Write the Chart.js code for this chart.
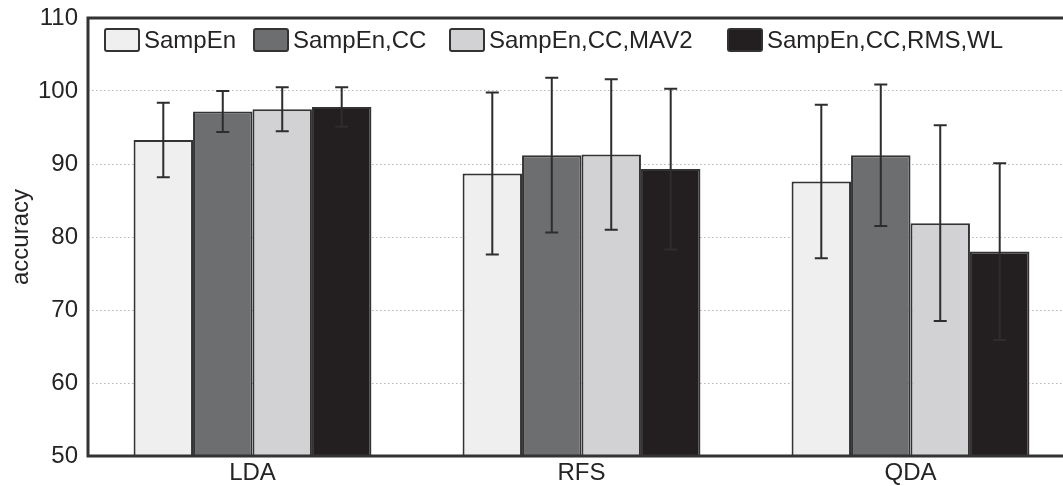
<!DOCTYPE html>
<html>
<head>
<meta charset="utf-8">
<script src="https://cdn.jsdelivr.net/npm/chart.js@4"></script>
<style>
  html, body { margin: 0; padding: 0; background: #fff; overflow: hidden; }
  #wrap { width: 1080px; height: 486px; }
</style>
</head>
<body>
<div id="wrap"><canvas id="chart" width="1080" height="486"></canvas></div>
<script>
// data
const classifiers = ["LDA", "RFS", "QDA"];
const featureSets = ["SampEn", "SampEn,CC", "SampEn,CC,MAV2", "SampEn,CC,RMS,WL"];
const sampEn       = [93.3, 88.7, 87.6];
const sampEnCC     = [97.2, 91.2, 91.2];
const sampEnCCMav2 = [97.5, 91.3, 81.9];
const sampEnCCRmsWl = [97.8, 89.3, 78.0];
const sampEnErr       = [5.1, 11.1, 10.5];
const sampEnCCErr     = [2.8, 10.6, 9.7];
const sampEnCCMav2Err = [3.0, 10.3, 13.4];
const sampEnCCRmsWlErr = [2.7, 11.0, 12.1];
const yTicks = [50, 60, 70, 80, 90, 100, 110];

const fills = ["#efefef", "#6d6e70", "#d2d2d4", "#231f20"];
const ink = "#262324";
const font = "'Liberation Sans', Arial, sans-serif";
// legend box offsets from the plot's left edge (layout only)
const legendOffsets = [17, 166, 362, 640];

const values = [sampEn, sampEnCC, sampEnCCMav2, sampEnCCRmsWl];
const errors = [sampEnErr, sampEnCCErr, sampEnCCMav2Err, sampEnCCRmsWlErr];

// error bars, drawn from the scales
const errorBars = {
    id: "errorBars",
    afterDatasetsDraw(chart) {
        const { ctx, scales: { y } } = chart;
        ctx.save();
        ctx.strokeStyle = "#2e2c2d";
        ctx.lineWidth = 2;
        chart.data.datasets.forEach((ds, i) => {
            const meta = chart.getDatasetMeta(i);
            meta.data.forEach((bar, j) => {
                const v = ds.data[j], e = ds.errors[j];
                const top = y.getPixelForValue(v + e);
                const bot = y.getPixelForValue(v - e);
                ctx.beginPath();
                ctx.moveTo(bar.x, top); ctx.lineTo(bar.x, bot);
                ctx.moveTo(bar.x - 6.5, top); ctx.lineTo(bar.x + 6.5, top);
                ctx.moveTo(bar.x - 6.5, bot); ctx.lineTo(bar.x + 6.5, bot);
                ctx.stroke();
            });
        });
        ctx.restore();
    }
};

// frame + legend inside the plot
const frameLegend = {
    id: "frameLegend",
    afterDraw(chart) {
        const { ctx, chartArea: a } = chart;
        ctx.save();
        ctx.strokeStyle = "#333";
        ctx.lineWidth = 3;
        ctx.strokeRect(a.left, a.top, a.right - a.left, a.bottom - a.top);

        ctx.font = "24px " + font;
        ctx.textBaseline = "middle";
        const boxY = a.top + 11, boxW = 34, boxH = 22;
        chart.data.datasets.forEach((ds, i) => {
            const x = a.left + legendOffsets[i];
            ctx.fillStyle = ds.backgroundColor;
            ctx.lineWidth = 2;
            ctx.strokeStyle = "#333";
            ctx.beginPath();
            ctx.roundRect(x, boxY, boxW, boxH, 2);
            ctx.fill();
            ctx.stroke();
            ctx.fillStyle = ink;
            ctx.fillText(ds.label, x + boxW + 5, boxY + boxH / 2 + 1);
        });
        ctx.restore();
    }
};

new Chart(document.getElementById("chart"), {
    type: "bar",
    data: {
        labels: classifiers,
        datasets: featureSets.map((name, i) => ({
            label: name,
            data: values[i],
            errors: errors[i],
            backgroundColor: fills[i],
            borderColor: "#333",
            borderWidth: 2,
            borderSkipped: false,
            barPercentage: 1,
            categoryPercentage: 0.723
        }))
    },
    options: {
        responsive: false,
        animation: false,
        devicePixelRatio: 1,
        layout: { autoPadding: false, padding: { top: 18, right: 5, left: 0, bottom: 0 } },
        plugins: { legend: { display: false }, tooltip: { enabled: false } },
        scales: {
            x: {
                grid: { display: false, drawTicks: false },
                border: { display: false },
                ticks: { color: ink, font: { family: font, size: 24 }, padding: 3 },
                afterFit(scale) { scale.height = 30; }
            },
            y: {
                min: 50,
                max: 110,
                afterBuildTicks(scale) { scale.ticks = yTicks.map(v => ({ value: v })); },
                grid: { color: "#b4b4b4", lineWidth: 1, drawTicks: false },
                border: { display: false, dash: [1.5, 2.5] },
                ticks: { color: ink, font: { family: font, size: 24 }, padding: 10 },
                title: {
                    display: true,
                    text: "accuracy",
                    color: ink,
                    font: { family: font, size: 24 },
                    padding: { top: 7, bottom: 0 }
                },
                afterFit(scale) {
                    scale.width = 88;
                    scale.paddingTop = 0;
                    scale.paddingBottom = 0;
                }
            }
        }
    },
    plugins: [errorBars, frameLegend]
});
</script>
</body>
</html>
